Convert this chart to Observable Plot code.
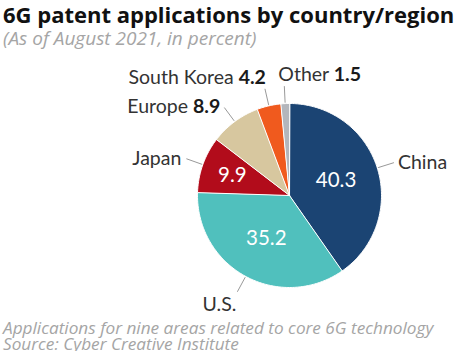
<!DOCTYPE html>
<html><head><meta charset="utf-8">
<script src="https://cdn.jsdelivr.net/npm/d3@7"></script>
<script src="https://cdn.jsdelivr.net/npm/@observablehq/plot@0.6"></script>
<style>
body{margin:0;background:#fff;font-family:"Open Sans",sans-serif;}
#title{margin:1px 0 0 3px;font:700 22px/27px "Open Sans",sans-serif;color:#111;white-space:nowrap}
#sub{margin:0 0 0 3px;font:italic 400 19px/20px "Open Sans",sans-serif;color:#a5a5a5;white-space:nowrap}
.cap{margin:0 0 0 3px;font:italic 400 17.2px/15px "Open Sans",sans-serif;color:#a5a5a5;white-space:nowrap;height:15px}
#cap2{height:16px;line-height:17px}
#chart svg{display:block}
</style></head><body>
<div id="title">6G patent applications by country/region</div>
<div id="sub">(As of August 2021, in percent)</div>
<div id="chart"></div>
<div class="cap">Applications for nine areas related to core 6G technology</div>
<div class="cap" id="cap2">Source: Cyber Creative Institute</div>
<script>
const countries = ["China", "U.S.", "Japan", "Europe", "South Korea", "Other"];
const shares = [40.3, 35.2, 9.9, 8.9, 4.2, 1.5];
const colors = ["#1b4473", "#50c0bd", "#b20c1b", "#d7c79f", "#f05a1e", "#b3b6bc"];

const W = 456, H = 272, CX = 289, CY = 147, R = 92;

const table = countries.map((c, i) => ({country: c, share: shares[i]}));
const arcs = d3.pie().sort(null).value(d => d.share)(table);

const slicePts = arcs.flatMap(a => {
  const n = Math.max(2, Math.ceil((a.endAngle - a.startAngle) / (Math.PI / 180)));
  const pts = [{country: a.data.country, x: 0, y: 0}];
  for (let k = 0; k <= n; k++) {
    const t = a.startAngle + (a.endAngle - a.startAngle) * k / n;
    pts.push({country: a.data.country, x: Math.sin(t), y: Math.cos(t)});
  }
  return pts;
});

const info = arcs.map(a => {
  const m = (a.startAngle + a.endAngle) / 2;
  const inside = a.data.share > 9;
  const ri = a.data.share > 20 ? 0.53 : 0.66;
  return {
    country: a.data.country, share: a.data.share, inside,
    x1: Math.sin(m) * 1.01, y1: Math.cos(m) * 1.01,
    x2: Math.sin(m) * 1.19, y2: Math.cos(m) * 1.19,
    xi: Math.sin(m) * ri, yi: Math.cos(m) * ri,
    label: inside ? a.data.country : a.data.country + " " + a.data.share.toFixed(1)
  };
});

const place = {
  "China": {anchor: "start", dx: 4, dy: 0},
  "U.S.": {anchor: "end", dx: -1, dy: 13},
  "Japan": {anchor: "end", dx: -5, dy: 0},
  "Europe": {anchor: "end", dx: -4, dy: -1},
  "South Korea": {anchor: "end", dx: 1, dy: -11},
  "Other": {anchor: "start", dx: -6, dy: -11}
};

const labelMarks = info.map(d => Plot.text([d], {
  x: "x2", y: "y2", text: "label",
  textAnchor: place[d.country].anchor, dx: place[d.country].dx, dy: place[d.country].dy,
  lineAnchor: "middle", fontSize: 19.5, fill: "#333"
}));

const plot = Plot.plot({
  width: W, height: H,
  margin: 0,
  style: {fontFamily: "Lato, sans-serif", background: "white"},
  x: {domain: [-CX / R, (W - CX) / R], axis: null},
  y: {domain: [-(H - CY) / R, CY / R], axis: null},
  color: {domain: countries, range: colors},
  marks: [
    Plot.line(slicePts, {x: "x", y: "y", z: "country", fill: "country", stroke: "white", strokeWidth: 1, curve: "linear-closed"}),
    Plot.link(info, {x1: "x1", y1: "y1", x2: "x2", y2: "y2", stroke: "#999", strokeWidth: 1}),
    Plot.text(info.filter(d => d.inside), {x: "xi", y: "yi", text: d => d.share.toFixed(1), fill: "white", fontSize: 20.5, lineAnchor: "middle"}),
    ...labelMarks
  ]
});
document.getElementById("chart").appendChild(plot);

// bold value part for outside labels
info.filter(d => !d.inside).forEach(d => {
  plot.querySelectorAll("text").forEach(t => {
    if (t.textContent === d.label) {
      t.textContent = "";
      const ns = "http://www.w3.org/2000/svg";
      const a = document.createElementNS(ns, "tspan");
      a.textContent = d.country + " ";
      const b = document.createElementNS(ns, "tspan");
      b.textContent = d.share.toFixed(1);
      b.setAttribute("font-weight", "700");
      b.setAttribute("fill", "#1a1a1a");
      t.appendChild(a); t.appendChild(b);
    }
  });
});
</script>
</body></html>
